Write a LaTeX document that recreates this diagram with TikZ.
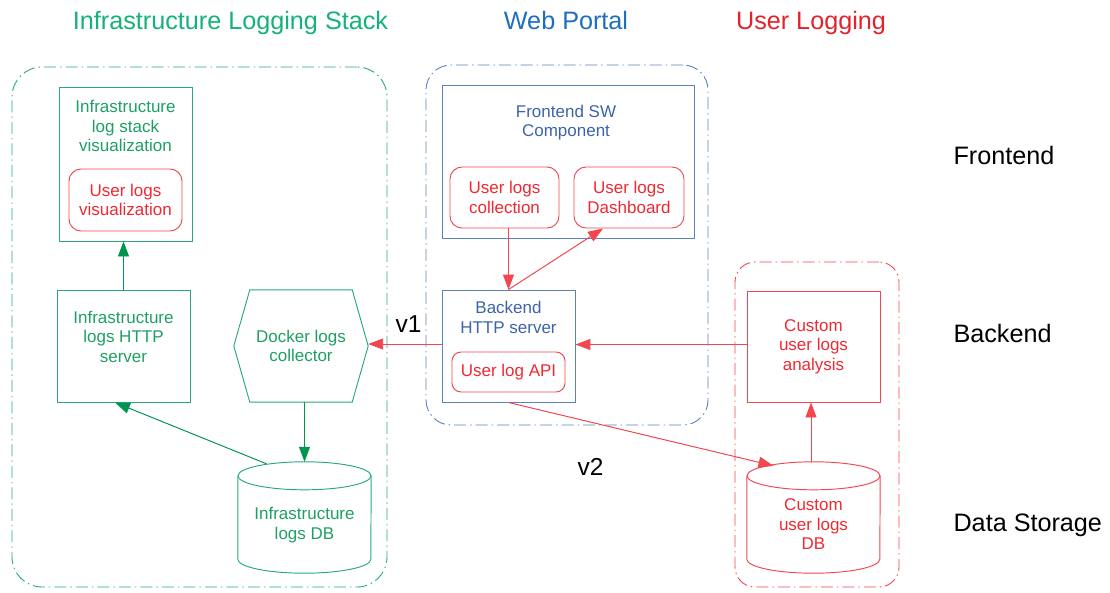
\documentclass[tikz,border=0pt]{standalone}
\usepackage{fontspec}
\setmainfont{Liberation Sans}
\usetikzlibrary{arrows.meta,calc}
\definecolor{gtitle}{RGB}{20,178,120}
\definecolor{gtxt}{RGB}{30,160,100}
\definecolor{gline}{RGB}{40,170,120}
\definecolor{garrow}{RGB}{0,150,80}
\definecolor{btitle}{RGB}{30,110,190}
\definecolor{btxt}{RGB}{60,100,170}
\definecolor{bline}{RGB}{90,130,190}
\definecolor{rtitle}{RGB}{225,35,45}
\definecolor{rtxt}{RGB}{240,40,50}
\definecolor{rline}{RGB}{242,70,80}
\begin{document}
\begin{tikzpicture}[x=1pt,y=-1pt,
  big/.style={font=\fontsize{25.2}{29}\selectfont},
  sm/.style={font=\fontsize{17}{19.5}\selectfont, align=center},
  boxline/.style={draw, line width=0.95pt, inner sep=0pt},
  gbox/.style={boxline, draw=gline},
  bbox/.style={boxline, draw=bline},
  rbox/.style={boxline, draw=rline},
  grp/.style={draw, line width=0.9pt, inner sep=0pt, dash pattern=on 12pt off 4pt on 1.5pt off 4pt},
  arr/.style={-{Triangle[length=15pt,width=11pt]}, line width=0.95pt},
  garr/.style={arr, draw=garrow, fill=garrow},
  rarr/.style={arr, draw=rline, fill=rtxt},
]
\useasboundingbox (0,0) rectangle (1110,592);

% titles
\node[big, text=gtitle, anchor=base] (tInf) at (230.5,29) {Infrastructure Logging Stack};
\node[big, text=btitle, anchor=base] (tWeb) at (566,29) {Web Portal};
\node[big, text=rtitle, anchor=base] (tUser) at (811,29) {User Logging};

% layer labels
\node[big, anchor=base west] (lFront) at (950,164) {Frontend};
\node[big, anchor=base west] (lBack) at (950,342) {Backend};
\node[big, anchor=base west] (lData) at (950,531.5) {Data Storage};

% groups
\node[grp, draw=gline, rounded corners=30pt, minimum width=375pt, minimum height=520pt] (gInf) at (199.5,327) {};
\node[grp, draw=bline, rounded corners=25pt, minimum width=282pt, minimum height=360pt] (gWeb) at (567,245) {};
\node[grp, draw=rline, rounded corners=20pt, minimum width=164pt, minimum height=325pt] (gUser) at (817,424.5) {};

% infrastructure stack
\node[gbox, minimum width=133pt, minimum height=154pt,
  label={[sm, text=gtxt, yshift=38pt]center:Infrastructure\\log stack\\visualization}] (viz) at (125.5,164) {};
\node[rbox, rounded corners=12pt, minimum width=113pt, minimum height=62pt, sm, text=rtxt] (uviz) at (125.5,200) {User logs\\visualization};
\node[gbox, minimum width=133pt, minimum height=112pt,
  label={[sm, text=gtxt, yshift=9.5pt]center:Infrastructure\\logs HTTP\\server}] (ihttp) at (123.5,346) {};
\node[sm, text=gtxt, inner sep=0pt, minimum width=134pt, minimum height=112pt] (docker) at (301,346) {Docker logs\\collector};
\draw[gline, line width=0.95pt] ([xshift=16pt]docker.north west) -- ([xshift=-16pt]docker.north east) -- (docker.east)
  -- ([xshift=-16pt]docker.south east) -- ([xshift=16pt]docker.south west) -- (docker.west) -- cycle;
\node[inner sep=0pt, minimum width=133pt, minimum height=111pt,
  label={[sm, text=gtxt, yshift=-7.5pt]center:Infrastructure\\logs DB}] (idb) at (304.5,517.5) {};
\draw[gline, line width=0.95pt] ([yshift=-14pt]idb.north) ellipse [x radius=66.5pt, y radius=14pt];
\draw[gline, line width=0.95pt] ([yshift=-14pt]idb.north west) -- ([yshift=14pt]idb.south west)
  arc[start angle=180, end angle=360, x radius=66.5pt, y radius=14pt] -- ([yshift=-14pt]idb.north east);

\draw[garr] (ihttp.north) -- (ihttp.north |- viz.south);
\draw[garr] ([xshift=-38pt, yshift=-2pt]idb.north) -- ([xshift=-8.5pt]ihttp.south);
\draw[garr] (docker.south -| idb.north) -- (idb.north);

% web portal
\node[bbox, minimum width=252pt, minimum height=153pt,
  label={[sm, text=btxt, yshift=39pt, xshift=-2pt]center:Frontend SW\\Component}] (fesw) at (568,161.5) {};
\node[rbox, rounded corners=12pt, minimum width=109pt, minimum height=61pt, sm, text=rtxt] (ucoll) at (504.5,197.5) {User logs\\collection};
\node[rbox, rounded corners=12pt, minimum width=110pt, minimum height=61pt, sm, text=rtxt] (udash) at (629,197.5) {User logs\\Dashboard};
\node[bbox, minimum width=133pt, minimum height=112pt,
  label={[sm, text=btxt, yshift=28.5pt]center:Backend\\HTTP server}] (backend) at (508.5,346) {};
\node[rbox, rounded corners=9pt, minimum width=113pt, minimum height=40pt, sm, text=rtxt] (uapi) at (508.5,372) {User log API};

\draw[rarr] (backend.north |- ucoll.south) -- (backend.north);
\draw[rarr] (backend.north) -- ([xshift=-26pt]udash.south);

% user logging
\node[rbox, minimum width=133pt, minimum height=111pt, sm, text=rtxt] (analysis) at (813.5,346.5) {Custom\\user logs\\analysis};
\node[inner sep=0pt, minimum width=133pt, minimum height=111pt,
  label={[sm, text=rtxt, yshift=-7pt]center:Custom\\user logs\\DB}] (cdb) at (813.5,517.5) {};
\draw[rline, line width=0.95pt] ([yshift=-14pt]cdb.north) ellipse [x radius=66.5pt, y radius=14pt];
\draw[rline, line width=0.95pt] ([yshift=-14pt]cdb.north west) -- ([yshift=14pt]cdb.south west)
  arc[start angle=180, end angle=360, x radius=66.5pt, y radius=14pt] -- ([yshift=-14pt]cdb.north east);

\draw[rarr] ([xshift=-2.5pt]cdb.north) -- ([xshift=-2.5pt]analysis.south);
\draw[rarr] ([yshift=2pt]analysis.west) -- ([yshift=2pt]analysis.west -| backend.east);
\draw[rarr] ([yshift=2pt]backend.west) -- node[pos=0.45, anchor=base, yshift=12pt, font=\fontsize{24.5}{28}\selectfont] (v1) {v1} ([yshift=2pt]docker.east);
\draw[rarr] (backend.south) -- node[pos=0.31, anchor=base, yshift=-53pt, font=\fontsize{24.5}{28}\selectfont] (v2) {v2} ([xshift=-40pt, yshift=-4pt]cdb.north);
\end{tikzpicture}
\end{document}
